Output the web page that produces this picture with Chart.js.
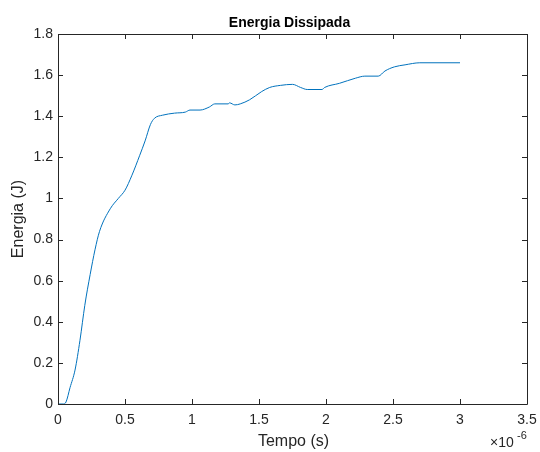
<!DOCTYPE html>
<html lang="pt">
<head>
    <meta charset="UTF-8">
    <title>Energia Dissipada</title>
    <script src="https://cdn.jsdelivr.net/npm/chart.js"></script>
    <style>
        body { margin: 0; background: #fff; }
        #wrap { width: 540px; height: 452px; }
    </style>
</head>
<body>
    <div id="wrap"><canvas id="energyChart" width="540" height="452"></canvas></div>

    <script>
        // Tempo in units of 1e-6 s, energia in J
        const tempo = [0, 0.04, 0.06, 0.09, 0.127, 0.164, 0.2, 0.24, 0.276, 0.31, 0.39, 0.45, 0.5, 0.55,
            0.61, 0.65, 0.69, 0.72, 0.78, 0.87, 0.95, 0.985, 1.06, 1.13, 1.17, 1.27, 1.28, 1.32, 1.36,
            1.43, 1.52, 1.58, 1.66, 1.75, 1.81, 1.86, 1.97, 1.99, 2.1, 2.22, 2.29, 2.39, 2.44, 2.51,
            2.59, 2.7, 3.0];
        const energia = [0, 0, 0.01, 0.08, 0.165, 0.31, 0.48, 0.63, 0.75, 0.84, 0.95, 1.0, 1.04, 1.11,
            1.21, 1.28, 1.36, 1.39, 1.405, 1.415, 1.42, 1.43, 1.43, 1.445, 1.46, 1.46, 1.465, 1.455, 1.46,
            1.48, 1.52, 1.54, 1.55, 1.555, 1.54, 1.53, 1.53, 1.54, 1.56, 1.585, 1.595, 1.595, 1.62, 1.64,
            1.65, 1.66, 1.66];
        const xTicks = [0, 0.5, 1, 1.5, 2, 2.5, 3, 3.5];
        const yTicks = [0, 0.2, 0.4, 0.6, 0.8, 1, 1.2, 1.4, 1.6, 1.8];

        const axisColor = '#262626';
        const font = '"Liberation Sans", Arial, Helvetica, sans-serif';

        // draws box, inward ticks, title and axis labels the matlab way
        const matlabFrame = {
            id: 'matlabFrame',
            afterDraw(chart) {
                const c = chart.ctx;
                const a = chart.chartArea;
                const xs = chart.scales.x, ys = chart.scales.y;
                c.save();
                c.strokeStyle = axisColor;
                c.lineWidth = 1;
                c.beginPath();
                c.rect(Math.round(a.left) + 0.5, Math.round(a.top) + 0.5,
                    Math.round(a.right - a.left), Math.round(a.bottom - a.top));
                xTicks.forEach(t => {
                    const px = Math.round(xs.getPixelForValue(t)) + 0.5;
                    c.moveTo(px, a.bottom); c.lineTo(px, a.bottom - 5);
                    c.moveTo(px, a.top); c.lineTo(px, a.top + 5);
                });
                yTicks.forEach(t => {
                    const py = Math.round(ys.getPixelForValue(t)) + 0.5;
                    c.moveTo(a.left, py); c.lineTo(a.left + 5, py);
                    c.moveTo(a.right, py); c.lineTo(a.right - 5, py);
                });
                c.stroke();

                c.fillStyle = '#000';
                c.textAlign = 'center';
                c.textBaseline = 'middle';
                c.font = 'bold 14px ' + font;
                c.fillText('Energia Dissipada', (a.left + a.right) / 2 - 3, 23);

                c.fillStyle = axisColor;
                c.font = '16px ' + font;
                c.fillText('Tempo (s)', (a.left + a.right) / 2 + 1, 442);

                c.save();
                c.translate(19, (a.top + a.bottom) / 2);
                c.rotate(-Math.PI / 2);
                c.fillText('Energia (J)', 0, 0);
                c.restore();

                // exponent label
                c.textAlign = 'left';
                c.font = '14px ' + font;
                c.fillText('\u00d710', 490, 443);
                c.font = '11px ' + font;
                c.fillText('-6', 517, 436);
                c.restore();
            }
        };

        const ctx = document.getElementById('energyChart').getContext('2d');
        const chart = new Chart(ctx, {
            type: 'line',
            data: {
                datasets: [{
                    label: 'Energia',
                    data: tempo.map((t, i) => ({ x: t, y: energia[i] })),
                    borderColor: '#0072BD',
                    borderWidth: 1,
                    pointRadius: 0,
                    cubicInterpolationMode: 'monotone',
                    fill: false
                }]
            },
            options: {
                responsive: false,
                animation: false,
                layout: { padding: { top: 34, right: 13, left: 0, bottom: 0 } },
                plugins: {
                    legend: { display: false },
                    tooltip: { enabled: false }
                },
                scales: {
                    x: {
                        type: 'linear',
                        min: 0,
                        max: 3.5,
                        afterFit: s => { s.height = 48; s.paddingLeft = 0; s.paddingRight = 0; },
                        afterBuildTicks: s => { s.ticks = xTicks.map(v => ({ value: v })); },
                        grid: { display: false, drawTicks: false, tickLength: 0 },
                        border: { display: false },
                        ticks: {
                            padding: 8,
                            color: axisColor,
                            font: { size: 14, family: font },
                            maxRotation: 0,
                            callback: v => String(v)
                        }
                    },
                    y: {
                        min: 0,
                        max: 1.8,
                        afterFit: s => { s.width = 58; s.paddingTop = 0; s.paddingBottom = 0; },
                        afterBuildTicks: s => { s.ticks = yTicks.map(v => ({ value: v })); },
                        grid: { display: false, drawTicks: false, tickLength: 0 },
                        border: { display: false },
                        ticks: {
                            padding: 5,
                            color: axisColor,
                            font: { size: 14, family: font },
                            callback: v => String(v)
                        }
                    }
                }
            },
            plugins: [matlabFrame]
        });
    </script>
</body>
</html>
